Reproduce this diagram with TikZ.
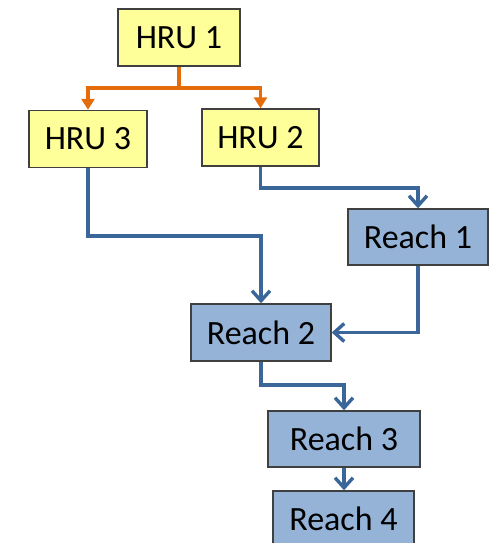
\documentclass[tikz,border=0pt]{standalone}
\usepackage{fontspec}
\setmainfont{Carlito}
\usetikzlibrary{arrows.meta}
\definecolor{hruyellow}{HTML}{FFFF99}
\definecolor{reachblue}{HTML}{95B3D7}
\definecolor{linkblue}{HTML}{3A6699}
\definecolor{linkorange}{HTML}{E46C0A}
\definecolor{boxborder}{HTML}{404040}
\begin{document}
\begin{tikzpicture}[x=1pt,y=-1pt,
  box/.style={draw=boxborder,line width=1.4pt,inner sep=0pt,
    font=\fontsize{34}{36}\selectfont},
  hru/.style={box,fill=hruyellow},
  reach/.style={box,fill=reachblue},
  bluelink/.style={draw=linkblue,line width=3.4pt,
    -{Straight Barb[length=10pt,width=18pt,line width=3.4pt]}},
  orangelink/.style={draw=linkorange,line width=3.2pt},
  orangehead/.style={orangelink,-{Triangle[length=11pt,width=13pt]}}]
\useasboundingbox (0,0) rectangle (488,543);
\node[hru,minimum width=122pt,minimum height=57pt] (h1) at (179,37.5) {HRU 1};
\node[hru,minimum width=118pt,minimum height=57pt] (h3) at (88,139) {HRU 3};
\node[hru,minimum width=117pt,minimum height=57pt] (h2) at (260.5,137.5) {HRU 2};
\node[reach,minimum width=140pt,minimum height=56pt] (r1) at (418,237) {Reach 1};
\node[reach,minimum width=140pt,minimum height=57pt] (r2) at (261,332.5) {Reach 2};
\node[reach,minimum width=152pt,minimum height=56pt] (r3) at (344,439) {Reach 3};
\node[reach,minimum width=141pt,minimum height=56pt] (r4) at (343.5,519) {Reach 4};
\coordinate (j1) at (179,88);
\draw[orangelink] (h1.south) -- (j1);
\draw[orangehead] (j1) -| (h3.north);
\draw[orangehead] (j1) -| (h2.north);
\coordinate (c1) at (261,236);
\draw[bluelink] (h3.south) |- (c1) -- (r2.north);
\coordinate (c2) at (418,188);
\draw[bluelink] (h2.south) |- (c2) -- (r1.north);
\draw[bluelink] (r1.south) |- (r2.east);
\coordinate (c3) at (344,385);
\draw[bluelink] (r2.south) |- (c3) -- (r3.north);
\draw[bluelink] (r3.south) -- (r3.south |- r4.north);
\end{tikzpicture}
\end{document}
